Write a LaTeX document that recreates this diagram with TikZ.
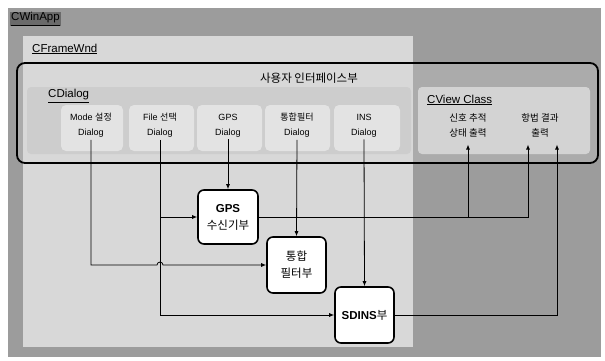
\documentclass[tikz,border=0pt]{standalone}
\usepackage{fontspec}
\setmainfont{Liberation Sans}
\newfontfamily\kr{Noto Sans CJK KR}
\usetikzlibrary{arrows.meta,calc}
\definecolor{outerbg}{HTML}{9C9C9C}
\definecolor{framebg}{HTML}{D8D8D8}
\definecolor{uibg}{HTML}{ABABAB}
\definecolor{dlgarea}{HTML}{CDCDCD}
\definecolor{dlgbg}{HTML}{E3E3E3}
\definecolor{viewbg}{HTML}{D3D3D3}
\definecolor{patch}{HTML}{6A6A6A}
\tikzset{
  lbl/.style={anchor=west, inner sep=1pt, font=\fontsize{11.5}{13}\selectfont},
  dlgtxt/.style={align=center, inner sep=2pt, font=\fontsize{9}{15}\selectfont},
  viewtxt/.style={align=center, inner xsep=2pt, inner ysep=7pt, font=\kr\fontsize{9.5}{15}\selectfont},
  unitbox/.style={draw=black, line width=1.6pt, fill=white, rounded corners=6pt,
    align=center, inner sep=1pt, font=\fontsize{11.5}{17}\selectfont},
  conn/.style={line width=0.8pt, draw=black},
  arr/.style={conn, -{Latex[length=5pt,width=4pt]}}
}
\begin{document}
\begin{tikzpicture}[x=1pt,y=-1pt]
\useasboundingbox (0,0) rectangle (605,360);
\fill[white] (0,0) rectangle (605,360);
% backgrounds
\fill[outerbg] (8,8) rectangle (601,357);
\fill[uibg, rounded corners=8pt] (17,63) rectangle (598,163);
\fill[framebg] (23,36) rectangle (413,347);
\fill[dlgarea, rounded corners=4pt] (27,87) rectangle (411,154);
\foreach \a/\b in {61/123, 129/194, 197/262, 265/330, 334/400}
  \fill[dlgbg, rounded corners=5pt] (\a,105) rectangle (\b,151);
\fill[viewbg, rounded corners=4pt] (418,87) rectangle (590,154);
\draw[black, line width=1.8pt, rounded corners=8pt] (17,63) rectangle (598,163);
% labels
\node[lbl, fill=patch] (winapp) at (10,19) {\underline{CWinApp}};
\node[lbl] (frame) at (31,49) {\underline{CFrameWnd}};
\node[font=\kr\fontsize{11.5}{13}\selectfont, inner sep=1pt] (uititle) at (309,78) {사용자 인터페이스부};
\node[lbl] (cdlg) at (47,96) {\underline{CDialog}};
\node[lbl] (cview) at (426,100) {\underline{CView Class}};
% dialogs
\node[dlgtxt] (modeD) at (91,125.5) {Mode {\kr 설정}\\Dialog};
\node[dlgtxt] (fileD) at (160,125.5) {File {\kr 선택}\\Dialog};
\node[dlgtxt] (gpsD) at (228,125.5) {GPS\\Dialog};
\node[dlgtxt] (fusD) at (297,125.5) {{\kr 통합필터}\\Dialog};
\node[dlgtxt] (insD) at (364,125.5) {INS\\Dialog};
% view outputs
\node[viewtxt] (trk) at (468,125.5) {신호 추적\\상태 출력};
\node[viewtxt] (nav) at (540,125.5) {항법 결과\\출력};
% units
\node[unitbox, minimum width=60pt, minimum height=54pt] (gps) at (228,217) {\textbf{GPS}\\{\kr 수신기부}};
\node[unitbox, minimum width=59pt, minimum height=56pt] (fus) at (296.5,265) {{\kr 통합}\\{\kr 필터부}};
\node[unitbox, minimum width=59pt, minimum height=56pt] (sdins) at (364.5,315) {\textbf{SDINS}{\kr 부}};
% helper coordinates
\coordinate (hopA) at ($(fileD.south |- fus.west)+(-3,0)$);
\coordinate (navA) at ([xshift=-12pt]nav.south);
\coordinate (navB) at ([xshift=17pt]nav.south);
% connectors
\draw[arr] (modeD.south) |- (hopA) arc[start angle=180, end angle=0, radius=3pt] -- (fus.west);
\draw[arr] (fileD.south) |- (sdins.west);
\draw[arr] (fileD.south |- gps.west) -- (gps.west);
\draw[arr] (gpsD.south) -- (gps.north);
\draw[arr] (fusD.south) -- (fus.north);
\draw[arr] (insD.south) -- (sdins.north);
\draw[arr] (gps.east) -| (navA);
\draw[arr] (gps.east -| trk.south) -- (trk.south);
\draw[arr] (sdins.east) -| (navB);
\end{tikzpicture}
\end{document}
